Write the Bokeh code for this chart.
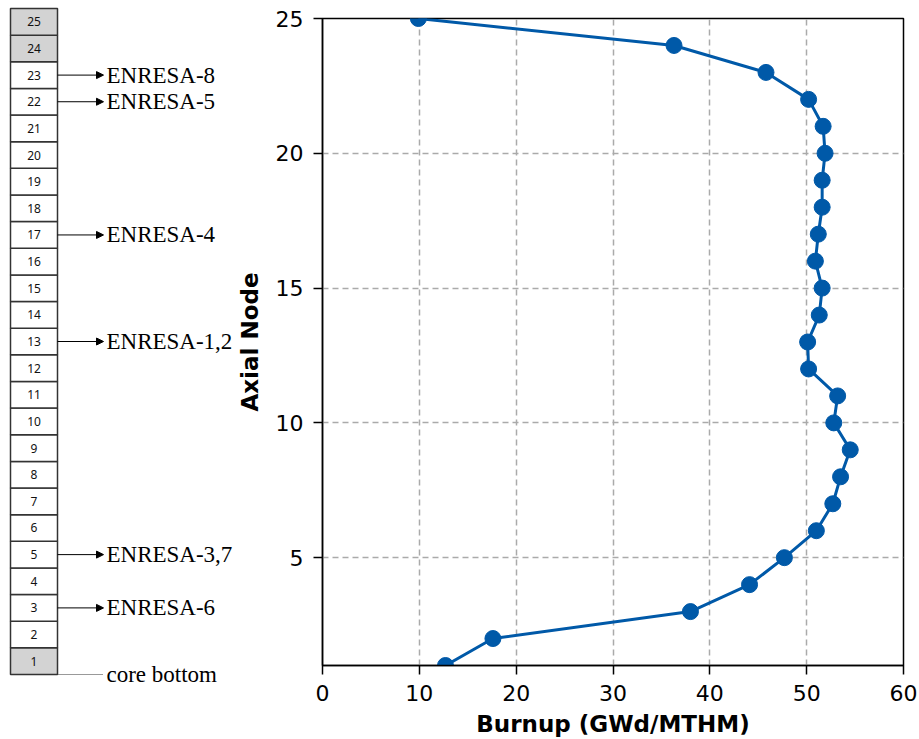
from bokeh.plotting import figure
from bokeh.layouts import row
from bokeh.models import ColumnDataSource, FixedTicker, Range1d, Arrow, NormalHead
from bokeh.core.properties import value
from bokeh.embed import file_html
from bokeh.resources import INLINE

# ---------------- data ----------------
nodes = list(range(1, 26))
burnup = [12.7, 17.6, 38.0, 44.1, 47.7, 51.0, 52.7, 53.5, 54.5, 52.8,
          53.2, 50.2, 50.1, 51.3, 51.6, 50.9, 51.2, 51.6, 51.6, 51.9,
          51.7, 50.2, 45.8, 36.3, 9.9]
x_ticks = [0, 10, 20, 30, 40, 50, 60]
y_ticks = [5, 10, 15, 20, 25]
gray_nodes = [1, 24, 25]
sample_nodes = [23, 22, 17, 13, 5, 3]
sample_labels = ["ENRESA-8", "ENRESA-5", "ENRESA-4", "ENRESA-1,2", "ENRESA-3,7", "ENRESA-6"]
bottom_label = "core bottom"
x_title = "Burnup (GWd/MTHM)"
y_title = "Axial Node"

# ---------------- layout constants ----------------
TOTAL_W = 919
TOTAL_H = 739
LEFT_W = 233
RIGHT_W = TOTAL_W - LEFT_W
BLUE = "#0059a8"
BOX_L, BOX_R = 10, 57         # px within left panel
ARROW_END = 103
LABEL_X = 106
BOX_TOP_PX = 8
BOX_PX = 26.64                # px per node in the schematic

# ---------------- left schematic ----------------
y_end = 25.5 + BOX_TOP_PX / BOX_PX
y_start = y_end - TOTAL_H / BOX_PX
left = figure(width=LEFT_W, height=TOTAL_H, x_range=Range1d(0, LEFT_W),
              y_range=Range1d(y_start, y_end), output_backend="svg",
              toolbar_location=None, x_axis_location=None, y_axis_location=None,
              min_border=0)
left.frame_align = False
left.grid.visible = False
left.outline_line_color = None
left.background_fill_color = "white"
left.border_fill_color = "white"

box_src = ColumnDataSource(dict(
    bottom=[n - 0.5 for n in nodes],
    top=[n + 0.5 for n in nodes],
    y=nodes,
    txt=[str(n) for n in nodes],
    fill=["#d3d3d3" if n in gray_nodes else "white" for n in nodes],
))
left.quad(left=BOX_L, right=BOX_R, bottom="bottom", top="top", source=box_src,
          fill_color="fill", line_color="#333333", line_width=1.5)
left.text(x=(BOX_L + BOX_R) / 2, y="y", text="txt", source=box_src,
          text_align="center", text_baseline="middle", text_font=value("Noto Sans"),
          text_font_size="12px", text_color="#111111")

arr_src = ColumnDataSource(dict(
    x0=[BOX_R] * len(sample_nodes), x1=[ARROW_END] * len(sample_nodes),
    y=sample_nodes, lab=sample_labels))
left.add_layout(Arrow(end=NormalHead(size=7, fill_color="black", line_color="black", line_width=1),
                      x_start="x0", y_start="y", x_end="x1", y_end="y", source=arr_src,
                      line_color="black", line_width=1))
left.text(x=LABEL_X, y="y", text="lab", source=arr_src, text_align="left",
          text_baseline="middle", text_font=value("Liberation Serif"),
          text_font_size="23px", text_color="black")

bottom_y = min(nodes) - 0.5
left.segment(x0=[BOX_R], y0=[bottom_y], x1=[ARROW_END], y1=[bottom_y],
             line_color="#333333", line_width=1, line_dash="1 1")
left.text(x=[LABEL_X], y=[bottom_y], text=[bottom_label], text_align="left",
          text_baseline="alphabetic", text_font=value("Liberation Serif"),
          text_font_size="23px", text_color="black")

# ---------------- right plot ----------------
p = figure(width=RIGHT_W, height=TOTAL_H, x_range=Range1d(0, 60), y_range=Range1d(1, 25),
           output_backend="svg", toolbar_location=None,
           min_border_left=89, min_border_right=16, min_border_top=18, min_border_bottom=74)
p.frame_align = False
p.background_fill_color = "white"
p.border_fill_color = "white"
p.outline_line_color = "black"
p.outline_line_width = 1.5

p.line(burnup, nodes, line_color=BLUE, line_width=3)
p.scatter(burnup, nodes, size=16, fill_color=BLUE, line_color=BLUE)

p.xaxis.ticker = FixedTicker(ticks=x_ticks)
p.yaxis.ticker = FixedTicker(ticks=y_ticks)
for ax in (p.xaxis, p.yaxis):
    ax.axis_line_color = "black"
    ax.axis_line_width = 1.5
    ax.major_tick_line_color = "black"
    ax.major_tick_line_width = 1.5
    ax.major_tick_out = 9
    ax.major_tick_in = 0
    ax.minor_tick_line_color = None
    ax.major_label_text_font = "DejaVu Sans"
    ax.major_label_text_font_size = "22px"
    ax.major_label_text_color = "black"
    ax.axis_label_text_font = "DejaVu Sans"
    ax.axis_label_text_font_size = "23px"
    ax.axis_label_text_font_style = "bold"
    ax.axis_label_text_color = "black"
p.xaxis.axis_label = x_title
p.yaxis.axis_label = y_title
p.xaxis.major_label_standoff = 10
p.xaxis.axis_label_standoff = 7
p.yaxis.major_label_standoff = 10
p.yaxis.axis_label_standoff = 10

for g in (p.xgrid, p.ygrid):
    g.grid_line_color = "#aaaaaa"
    g.grid_line_width = 1.5
    g.grid_line_dash = "6 4"
p.xgrid.ticker = FixedTicker(ticks=x_ticks)
p.ygrid.ticker = FixedTicker(ticks=y_ticks)

layout = row(left, p)
open("out.html", "w").write(file_html(layout, INLINE))
